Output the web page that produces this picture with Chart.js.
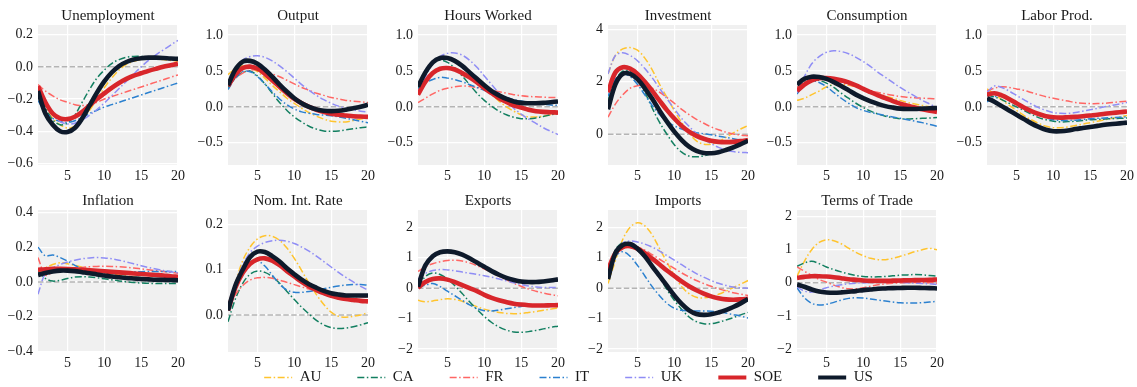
<!DOCTYPE html>
<html>
<head>
<meta charset="utf-8">
<script src="https://cdn.jsdelivr.net/npm/chart.js@4.4.0/dist/chart.umd.min.js"></script>
<style>
  html, body { margin: 0; padding: 0; background: #fff; overflow: hidden; }
  body { width: 1137px; height: 387px; position: relative; }
  canvas { position: absolute; }
</style>
</head>
<body>
<canvas id="legend" width="1137" height="120" style="left:0;top:334px"></canvas>
<script>
// impulse responses, quarters 1..20
const periods = [1, 2, 3, 4, 5, 6, 7, 8, 9, 10, 11, 12, 13, 14, 15, 16, 17, 18, 19, 20];
const countries = ['AU', 'CA', 'FR', 'IT', 'UK', 'SOE', 'US'];
const xTicks = [5, 10, 15, 20];

// rows follow the order of `countries`
const unemployment = [
  [-0.13, -0.25, -0.32, -0.36, -0.38, -0.37, -0.33, -0.27, -0.20, -0.13, -0.07, -0.02, 0.015, 0.035, 0.045, 0.05, 0.05, 0.045, 0.04, 0.035],
  [-0.13, -0.25, -0.33, -0.36, -0.35, -0.30, -0.22, -0.14, -0.07, -0.02, 0.02, 0.045, 0.06, 0.065, 0.065, 0.06, 0.055, 0.05, 0.045, 0.04],
  [-0.11, -0.15, -0.18, -0.205, -0.22, -0.235, -0.24, -0.235, -0.22, -0.20, -0.185, -0.17, -0.155, -0.14, -0.125, -0.11, -0.095, -0.08, -0.065, -0.05],
  [-0.21, -0.28, -0.32, -0.34, -0.345, -0.335, -0.315, -0.29, -0.27, -0.25, -0.235, -0.22, -0.205, -0.19, -0.175, -0.16, -0.145, -0.13, -0.115, -0.10],
  [-0.12, -0.23, -0.30, -0.34, -0.355, -0.35, -0.33, -0.30, -0.265, -0.225, -0.18, -0.135, -0.09, -0.045, 0.0, 0.04, 0.075, 0.105, 0.135, 0.165],
  [-0.12, -0.22, -0.29, -0.32, -0.325, -0.31, -0.28, -0.24, -0.20, -0.165, -0.13, -0.10, -0.075, -0.055, -0.04, -0.025, -0.012, 0.0, 0.01, 0.02],
  [-0.15, -0.29, -0.36, -0.40, -0.405, -0.38, -0.32, -0.24, -0.16, -0.09, -0.035, 0.005, 0.03, 0.045, 0.053, 0.057, 0.057, 0.055, 0.052, 0.05]
];
const output = [
  [0.45, 0.53, 0.57, 0.55, 0.49, 0.40, 0.30, 0.21, 0.12, 0.05, -0.02, -0.08, -0.13, -0.17, -0.20, -0.21, -0.21, -0.19, -0.17, -0.15],
  [0.27, 0.40, 0.48, 0.50, 0.43, 0.32, 0.19, 0.06, -0.05, -0.14, -0.21, -0.27, -0.31, -0.335, -0.34, -0.335, -0.32, -0.305, -0.29, -0.28],
  [0.33, 0.40, 0.47, 0.51, 0.52, 0.50, 0.46, 0.42, 0.37, 0.32, 0.27, 0.23, 0.19, 0.16, 0.13, 0.11, 0.09, 0.08, 0.07, 0.06],
  [0.24, 0.40, 0.49, 0.49, 0.42, 0.32, 0.21, 0.11, 0.03, -0.03, -0.07, -0.09, -0.105, -0.115, -0.125, -0.14, -0.16, -0.18, -0.20, -0.22],
  [0.30, 0.52, 0.65, 0.70, 0.71, 0.69, 0.64, 0.57, 0.49, 0.40, 0.31, 0.23, 0.16, 0.10, 0.05, 0.01, -0.02, -0.04, -0.06, -0.07],
  [0.29, 0.45, 0.54, 0.56, 0.53, 0.46, 0.37, 0.28, 0.19, 0.11, 0.05, 0.0, -0.04, -0.07, -0.095, -0.11, -0.12, -0.13, -0.135, -0.14],
  [0.30, 0.52, 0.63, 0.64, 0.60, 0.52, 0.42, 0.31, 0.21, 0.12, 0.05, 0.0, -0.035, -0.055, -0.06, -0.055, -0.04, -0.02, 0.0, 0.03]
];
const hoursWorked = [
  [0.28, 0.48, 0.62, 0.68, 0.69, 0.65, 0.57, 0.47, 0.37, 0.27, 0.17, 0.08, 0.0, -0.06, -0.11, -0.14, -0.14, -0.13, -0.11, -0.09],
  [0.25, 0.45, 0.60, 0.65, 0.62, 0.54, 0.43, 0.31, 0.19, 0.09, 0.01, -0.06, -0.11, -0.145, -0.165, -0.165, -0.155, -0.135, -0.11, -0.09],
  [0.06, 0.12, 0.18, 0.23, 0.26, 0.28, 0.29, 0.285, 0.27, 0.25, 0.23, 0.21, 0.19, 0.17, 0.155, 0.145, 0.14, 0.135, 0.13, 0.13],
  [0.25, 0.33, 0.38, 0.41, 0.40, 0.38, 0.35, 0.31, 0.27, 0.23, 0.19, 0.16, 0.13, 0.10, 0.08, 0.06, 0.045, 0.035, 0.025, 0.02],
  [0.20, 0.42, 0.60, 0.70, 0.745, 0.75, 0.72, 0.65, 0.55, 0.43, 0.31, 0.19, 0.08, -0.02, -0.10, -0.17, -0.23, -0.29, -0.34, -0.385],
  [0.17, 0.35, 0.47, 0.53, 0.54, 0.52, 0.47, 0.41, 0.34, 0.26, 0.19, 0.12, 0.07, 0.02, -0.01, -0.04, -0.06, -0.07, -0.075, -0.08],
  [0.28, 0.48, 0.62, 0.68, 0.68, 0.64, 0.57, 0.48, 0.39, 0.30, 0.22, 0.16, 0.11, 0.075, 0.055, 0.05, 0.05, 0.055, 0.065, 0.075]
];
const investment = [
  [2.3, 3.0, 3.25, 3.3, 3.2, 2.9, 2.45, 1.9, 1.4, 0.9, 0.45, 0.05, -0.25, -0.38, -0.38, -0.28, -0.12, 0.05, 0.2, 0.33],
  [1.3, 2.05, 2.4, 2.4, 2.1, 1.6, 1.0, 0.45, 0.0, -0.4, -0.68, -0.83, -0.86, -0.82, -0.74, -0.65, -0.55, -0.45, -0.35, -0.27],
  [0.65, 1.15, 1.5, 1.75, 1.85, 1.85, 1.75, 1.6, 1.4, 1.18, 0.95, 0.75, 0.57, 0.42, 0.28, 0.17, 0.08, 0.01, -0.03, -0.06],
  [1.45, 2.1, 2.3, 2.2, 1.9, 1.5, 1.1, 0.75, 0.5, 0.32, 0.2, 0.12, 0.06, 0.02, -0.02, -0.07, -0.12, -0.17, -0.22, -0.27],
  [2.3, 3.0, 3.1, 3.0, 2.8, 2.5, 2.15, 1.75, 1.35, 0.97, 0.6, 0.3, 0.03, -0.18, -0.36, -0.5, -0.6, -0.66, -0.69, -0.7],
  [1.6, 2.35, 2.55, 2.5, 2.3, 2.0, 1.65, 1.28, 0.92, 0.6, 0.32, 0.1, -0.06, -0.17, -0.25, -0.29, -0.3, -0.29, -0.26, -0.22],
  [0.95, 1.9, 2.3, 2.3, 2.1, 1.75, 1.35, 0.9, 0.48, 0.1, -0.22, -0.47, -0.63, -0.71, -0.72, -0.68, -0.6, -0.5, -0.38, -0.25]
];
const consumption = [
  [0.09, 0.12, 0.17, 0.22, 0.28, 0.31, 0.31, 0.30, 0.28, 0.25, 0.21, 0.18, 0.15, 0.12, 0.09, 0.06, 0.04, 0.02, 0.0, -0.02],
  [0.27, 0.35, 0.38, 0.37, 0.33, 0.27, 0.19, 0.12, 0.05, -0.01, -0.06, -0.1, -0.13, -0.15, -0.165, -0.17, -0.165, -0.16, -0.155, -0.15],
  [0.27, 0.34, 0.38, 0.40, 0.39, 0.37, 0.34, 0.31, 0.28, 0.25, 0.22, 0.2, 0.18, 0.16, 0.145, 0.135, 0.125, 0.12, 0.115, 0.11],
  [0.18, 0.31, 0.36, 0.34, 0.28, 0.2, 0.12, 0.05, -0.01, -0.05, -0.08, -0.1, -0.12, -0.14, -0.16, -0.18, -0.2, -0.22, -0.245, -0.27],
  [0.2, 0.42, 0.6, 0.7, 0.76, 0.78, 0.77, 0.74, 0.69, 0.63, 0.56, 0.48, 0.41, 0.34, 0.27, 0.21, 0.15, 0.09, 0.04, -0.01],
  [0.22, 0.31, 0.37, 0.40, 0.40, 0.39, 0.37, 0.34, 0.30, 0.25, 0.205, 0.16, 0.12, 0.08, 0.045, 0.015, -0.01, -0.035, -0.055, -0.07],
  [0.31, 0.39, 0.42, 0.415, 0.39, 0.345, 0.29, 0.23, 0.17, 0.12, 0.075, 0.04, 0.01, -0.01, -0.025, -0.03, -0.03, -0.025, -0.02, -0.015]
];
const laborProd = [
  [0.25, 0.18, 0.1, 0.02, -0.05, -0.12, -0.18, -0.23, -0.27, -0.29, -0.29, -0.28, -0.26, -0.24, -0.22, -0.2, -0.18, -0.16, -0.14, -0.12],
  [0.16, 0.14, 0.1, 0.05, 0.0, -0.05, -0.1, -0.15, -0.18, -0.2, -0.21, -0.205, -0.2, -0.19, -0.18, -0.175, -0.17, -0.165, -0.16, -0.155],
  [0.22, 0.26, 0.28, 0.27, 0.25, 0.23, 0.2, 0.17, 0.14, 0.12, 0.1, 0.08, 0.06, 0.05, 0.045, 0.045, 0.05, 0.06, 0.07, 0.08],
  [0.07, 0.14, 0.15, 0.12, 0.06, 0.0, -0.06, -0.11, -0.15, -0.18, -0.19, -0.19, -0.185, -0.175, -0.165, -0.16, -0.155, -0.15, -0.145, -0.14],
  [0.2, 0.29, 0.27, 0.22, 0.16, 0.1, 0.04, -0.01, -0.05, -0.08, -0.09, -0.09, -0.08, -0.06, -0.04, -0.02, 0.0, 0.02, 0.04, 0.06],
  [0.17, 0.19, 0.16, 0.11, 0.05, -0.01, -0.06, -0.1, -0.13, -0.145, -0.15, -0.145, -0.14, -0.13, -0.12, -0.11, -0.095, -0.085, -0.075, -0.065],
  [0.12, 0.07, 0.01, -0.05, -0.11, -0.17, -0.23, -0.28, -0.32, -0.34, -0.34, -0.33, -0.31, -0.295, -0.28, -0.265, -0.25, -0.24, -0.23, -0.22]
];
const inflation = [
  [0.05, 0.08, 0.1, 0.11, 0.105, 0.095, 0.085, 0.075, 0.065, 0.055, 0.047, 0.04, 0.034, 0.029, 0.025, 0.021, 0.018, 0.015, 0.012, 0.01],
  [0.06, 0.02, 0.005, 0.01, 0.02, 0.028, 0.03, 0.028, 0.024, 0.018, 0.012, 0.006, 0.001, -0.003, -0.006, -0.008, -0.009, -0.009, -0.009, -0.008],
  [0.14, 0.04, 0.055, 0.065, 0.072, 0.078, 0.083, 0.087, 0.089, 0.09, 0.089, 0.087, 0.084, 0.08, 0.075, 0.07, 0.065, 0.06, 0.055, 0.05],
  [0.2, 0.15, 0.155, 0.14, 0.12, 0.095, 0.075, 0.063, 0.057, 0.055, 0.055, 0.056, 0.057, 0.058, 0.059, 0.06, 0.06, 0.06, 0.06, 0.06],
  [-0.07, 0.05, 0.08, 0.1, 0.115, 0.125, 0.133, 0.138, 0.14, 0.138, 0.133, 0.125, 0.115, 0.104, 0.093, 0.083, 0.074, 0.066, 0.059, 0.053],
  [0.07, 0.073, 0.075, 0.075, 0.074, 0.072, 0.07, 0.067, 0.064, 0.061, 0.058, 0.055, 0.052, 0.049, 0.046, 0.043, 0.04, 0.037, 0.033, 0.03],
  [0.04, 0.052, 0.06, 0.065, 0.065, 0.062, 0.056, 0.05, 0.043, 0.037, 0.031, 0.027, 0.023, 0.02, 0.017, 0.015, 0.013, 0.012, 0.011, 0.01]
];
const nomIntRate = [
  [0.01, 0.07, 0.12, 0.15, 0.168, 0.175, 0.174, 0.165, 0.148, 0.125, 0.098, 0.07, 0.045, 0.023, 0.006, -0.003, -0.005, -0.003, 0.0, 0.005],
  [-0.015, 0.035, 0.07, 0.09, 0.097, 0.094, 0.085, 0.07, 0.052, 0.034, 0.017, 0.002, -0.012, -0.022, -0.028, -0.03, -0.029, -0.026, -0.022, -0.017],
  [0.015, 0.045, 0.065, 0.077, 0.082, 0.083, 0.081, 0.077, 0.072, 0.067, 0.062, 0.057, 0.053, 0.05, 0.047, 0.045, 0.043, 0.041, 0.04, 0.039],
  [0.015, 0.065, 0.1, 0.118, 0.12, 0.108, 0.088, 0.068, 0.055, 0.05, 0.05, 0.052, 0.055, 0.058, 0.061, 0.064, 0.066, 0.067, 0.067, 0.066],
  [0.01, 0.07, 0.11, 0.138, 0.152, 0.16, 0.164, 0.165, 0.163, 0.158, 0.15, 0.141, 0.13, 0.118, 0.106, 0.094, 0.083, 0.073, 0.063, 0.055],
  [0.01, 0.06, 0.093, 0.113, 0.123, 0.125, 0.12, 0.11, 0.097, 0.085, 0.073, 0.063, 0.055, 0.048, 0.042, 0.038, 0.035, 0.033, 0.031, 0.03],
  [0.01, 0.065, 0.1, 0.128, 0.14, 0.139, 0.13, 0.118, 0.103, 0.09, 0.078, 0.068, 0.06, 0.053, 0.048, 0.045, 0.043, 0.043, 0.043, 0.043]
];
const exports = [
  [-0.4, -0.45, -0.42, -0.38, -0.35, -0.37, -0.43, -0.52, -0.61, -0.69, -0.75, -0.8, -0.83, -0.84, -0.83, -0.8, -0.77, -0.73, -0.69, -0.65],
  [0.05, 0.38, 0.5, 0.45, 0.3, 0.08, -0.18, -0.45, -0.7, -0.93, -1.13, -1.28, -1.38, -1.44, -1.45, -1.43, -1.39, -1.34, -1.29, -1.25],
  [0.55, 0.7, 0.8, 0.87, 0.91, 0.92, 0.89, 0.83, 0.74, 0.63, 0.51, 0.39, 0.27, 0.16, 0.06, -0.03, -0.1, -0.16, -0.21, -0.25],
  [0.02, 0.1, 0.15, 0.05, -0.1, -0.25, -0.4, -0.55, -0.67, -0.74, -0.75, -0.72, -0.68, -0.64, -0.6, -0.57, -0.55, -0.54, -0.53, -0.52],
  [0.3, 0.48, 0.58, 0.61, 0.6, 0.57, 0.53, 0.49, 0.45, 0.41, 0.36, 0.3, 0.24, 0.18, 0.12, 0.07, 0.04, 0.02, 0.02, 0.02],
  [0.02, 0.2, 0.3, 0.32, 0.28, 0.2, 0.1, 0.0, -0.1, -0.22, -0.32, -0.4, -0.46, -0.51, -0.54, -0.56, -0.57, -0.57, -0.565, -0.56],
  [0.05, 0.75, 1.05, 1.18, 1.21, 1.18, 1.1, 0.98, 0.84, 0.7, 0.56, 0.44, 0.34, 0.27, 0.22, 0.2, 0.2, 0.22, 0.25, 0.29]
];
const imports = [
  [0.15, 0.9, 1.6, 2.0, 2.15, 2.05, 1.75, 1.3, 0.85, 0.42, 0.05, -0.18, -0.3, -0.32, -0.28, -0.2, -0.1, 0.02, 0.13, 0.25],
  [0.5, 1.25, 1.5, 1.45, 1.25, 1.0, 0.7, 0.35, -0.05, -0.4, -0.7, -0.95, -1.1, -1.17, -1.17, -1.12, -1.05, -0.97, -0.88, -0.8],
  [0.6, 1.15, 1.35, 1.4, 1.35, 1.25, 1.1, 0.95, 0.8, 0.65, 0.5, 0.37, 0.25, 0.15, 0.06, -0.02, -0.09, -0.15, -0.2, -0.24],
  [0.6, 1.05, 1.2, 1.05, 0.75, 0.4, 0.05, -0.25, -0.5, -0.66, -0.73, -0.75, -0.75, -0.75, -0.76, -0.78, -0.82, -0.87, -0.92, -0.98],
  [0.6, 1.2, 1.48, 1.55, 1.52, 1.45, 1.35, 1.22, 1.07, 0.92, 0.77, 0.62, 0.48, 0.36, 0.25, 0.16, 0.09, 0.04, 0.01, 0.0],
  [0.6, 1.15, 1.35, 1.38, 1.3, 1.15, 0.97, 0.78, 0.58, 0.4, 0.22, 0.06, -0.07, -0.18, -0.27, -0.33, -0.37, -0.38, -0.37, -0.35],
  [0.3, 1.15, 1.42, 1.45, 1.3, 1.05, 0.72, 0.4, 0.08, -0.24, -0.52, -0.73, -0.85, -0.88, -0.86, -0.8, -0.72, -0.62, -0.5, -0.36]
];
const termsOfTrade = [
  [0.2, 0.65, 1.0, 1.22, 1.3, 1.27, 1.18, 1.05, 0.92, 0.82, 0.74, 0.7, 0.7, 0.74, 0.8, 0.87, 0.94, 1.0, 1.04, 1.0],
  [0.5, 0.6, 0.65, 0.58, 0.48, 0.4, 0.33, 0.27, 0.22, 0.19, 0.18, 0.18, 0.19, 0.21, 0.23, 0.24, 0.25, 0.24, 0.22, 0.2],
  [0.48, 0.35, 0.22, 0.1, 0.02, -0.07, -0.14, -0.18, -0.18, -0.15, -0.1, -0.06, -0.03, -0.01, 0.0, 0.01, 0.01, 0.0, 0.0, -0.01],
  [-0.15, -0.45, -0.62, -0.67, -0.65, -0.59, -0.52, -0.47, -0.45, -0.46, -0.49, -0.52, -0.55, -0.58, -0.6, -0.61, -0.61, -0.6, -0.58, -0.56],
  [-0.12, -0.25, -0.28, -0.22, -0.15, -0.1, -0.06, -0.03, -0.01, 0.0, 0.01, 0.015, 0.02, 0.02, 0.015, 0.0, -0.01, -0.02, -0.03, -0.05],
  [0.15, 0.18, 0.2, 0.2, 0.19, 0.17, 0.14, 0.11, 0.09, 0.07, 0.06, 0.06, 0.06, 0.065, 0.07, 0.075, 0.08, 0.085, 0.09, 0.1],
  [-0.05, -0.12, -0.2, -0.26, -0.29, -0.3, -0.29, -0.27, -0.25, -0.22, -0.2, -0.18, -0.17, -0.16, -0.155, -0.15, -0.15, -0.155, -0.16, -0.17]
];

const unemploymentTicks = [-0.6, -0.4, -0.2, 0, 0.2];
const realTicks = [-0.5, 0, 0.5, 1.0];
const investmentTicks = [0, 2, 4];
const inflationTicks = [-0.4, -0.2, 0, 0.2, 0.4];
const rateTicks = [0, 0.1, 0.2];
const tradeTicks = [-2, -1, 0, 1, 2];

const FONT = "'Liberation Serif', 'DejaVu Serif', serif";
const INK = '#1a1a1a';
const colors = ['#ffc42e', '#127f60', '#ff6664', '#2b80cf', '#8f8df5', '#d8262b', '#0e1a2b'];
const widths = [1.5, 1.5, 1.5, 1.5, 1.5, 4.6, 4.6];
const DASHDOT = [7, 2.5, 1.5, 2.5];
const dashes = [DASHDOT, DASHDOT, DASHDOT, DASHDOT, DASHDOT, [], []];

const panels = [
  { title: 'Unemployment', rows: unemployment, ticks: unemploymentTicks, min: -0.61, max: 0.26, digits: 1 },
  { title: 'Output', rows: output, ticks: realTicks, min: -0.81, max: 1.14, digits: 1 },
  { title: 'Hours Worked', rows: hoursWorked, ticks: realTicks, min: -0.81, max: 1.14, digits: 1 },
  { title: 'Investment', rows: investment, ticks: investmentTicks, min: -1.17, max: 4.16, digits: 0 },
  { title: 'Consumption', rows: consumption, ticks: realTicks, min: -0.81, max: 1.14, digits: 1 },
  { title: 'Labor Prod.', rows: laborProd, ticks: realTicks, min: -0.81, max: 1.14, digits: 1 },
  { title: 'Inflation', rows: inflation, ticks: inflationTicks, min: -0.402, max: 0.413, digits: 1 },
  { title: 'Nom. Int. Rate', rows: nomIntRate, ticks: rateTicks, min: -0.082, max: 0.232, digits: 1 },
  { title: 'Exports', rows: exports, ticks: tradeTicks, min: -2.1, max: 2.57, digits: 0 },
  { title: 'Imports', rows: imports, ticks: tradeTicks, min: -2.1, max: 2.57, digits: 0 },
  { title: 'Terms of Trade', rows: termsOfTrade, ticks: tradeTicks, min: -2.09, max: 2.2, digits: 0 }
];

const plotLefts = [38, 228, 418, 608, 797, 987];
const PLOT_W = 140;
const AXIS_W = 38;

function fmtTick(v, digits) {
  const s = Math.abs(v).toFixed(digits);
  return v < 0 ? '\u2212' + s : s;
}

const plotBackground = {
  id: 'plotBackground',
  beforeDraw(chart) {
    const a = chart.chartArea;
    if (!a) return;
    const ctx = chart.ctx;
    ctx.save();
    ctx.fillStyle = '#f0f0f0';
    ctx.fillRect(a.left, a.top, a.right - a.left, a.bottom - a.top);
    ctx.restore();
  }
};

panels.forEach((p, i) => {
  const col = i % 6, row = Math.floor(i / 6);
  const left = plotLefts[col] - AXIS_W;
  const width = Math.min(190, 1137 - left);
  const top = row === 0 ? 0 : 185;
  const height = row === 0 ? 185 : 187;

  const canvas = document.createElement('canvas');
  canvas.width = width;
  canvas.height = height;
  canvas.style.left = left + 'px';
  canvas.style.top = top + 'px';
  document.body.appendChild(canvas);

  const datasets = p.rows.map((vals, k) => ({
    label: countries[k],
    data: periods.map((t, j) => ({ x: t, y: vals[j] })),
    borderColor: colors[k],
    borderWidth: widths[k],
    borderDash: dashes[k],
    pointRadius: 0,
    tension: 0.35,
    order: countries.length - k
  }));
  // dashed zero reference, underneath everything
  datasets.push({
    label: 'zero',
    data: [{ x: periods[0], y: 0 }, { x: periods[periods.length - 1], y: 0 }],
    borderColor: '#b4b4b4',
    borderWidth: 1.5,
    borderDash: [5.5, 2.4],
    pointRadius: 0,
    order: countries.length + 1
  });

  new Chart(canvas, {
    type: 'line',
    data: { datasets },
    options: {
      responsive: false,
      animation: false,
      layout: { padding: { top: 0, left: 0, bottom: 0, right: width - AXIS_W - PLOT_W } },
      plugins: {
        legend: { display: false },
        tooltip: { enabled: false },
        title: {
          display: true,
          text: p.title,
          fullSize: false,
          color: INK,
          font: { family: FONT, size: 15, weight: 'normal', lineHeight: 1.15 },
          padding: { top: 7.5, bottom: 0.25 }
        }
      },
      scales: {
        x: {
          type: 'linear',
          min: 1,
          max: 20,
          afterBuildTicks: s => { s.ticks = xTicks.map(v => ({ value: v })); },
          afterFit: s => { s.height = 20; },
          grid: { color: '#ffffff', lineWidth: 1.2, drawTicks: false },
          border: { display: false },
          ticks: { padding: 3, autoSkip: false, maxRotation: 0, color: INK, font: { family: FONT, size: 14 } }
        },
        y: {
          type: 'linear',
          min: p.min,
          max: p.max,
          afterBuildTicks: s => { s.ticks = p.ticks.map(v => ({ value: v })); },
          afterFit: s => { s.width = AXIS_W; },
          grid: { color: '#ffffff', lineWidth: 1.2, drawTicks: false },
          border: { display: false },
          ticks: { padding: 5, color: INK, font: { family: FONT, size: 14 }, callback: v => fmtTick(v, p.digits) }
        }
      }
    },
    plugins: [plotBackground]
  });
});

// shared legend along the bottom
new Chart(document.getElementById('legend'), {
  type: 'line',
  data: {
    datasets: countries.map((c, k) => ({
      label: c,
      data: [],
      borderColor: colors[k],
      backgroundColor: colors[k],
      borderWidth: widths[k] > 2 ? 4 : 1.5,
      borderDash: dashes[k]
    }))
  },
  options: {
    responsive: false,
    animation: false,
    scales: { x: { display: false }, y: { display: false } },
    plugins: {
      tooltip: { enabled: false },
      legend: {
        position: 'top',
        labels: {
          usePointStyle: true,
          pointStyle: 'line',
          pointStyleWidth: 28,
          padding: 36,
          color: INK,
          font: { family: FONT, size: 15 },
          // point-style items drop the dataset dash, so put it back
          generateLabels: chart => Chart.defaults.plugins.legend.labels.generateLabels(chart)
            .map((item, k) => Object.assign(item, { lineDash: dashes[k], lineWidth: widths[k] > 2 ? 4 : 1.5 }))
        }
      }
    }
  }
});
</script>
</body>
</html>
